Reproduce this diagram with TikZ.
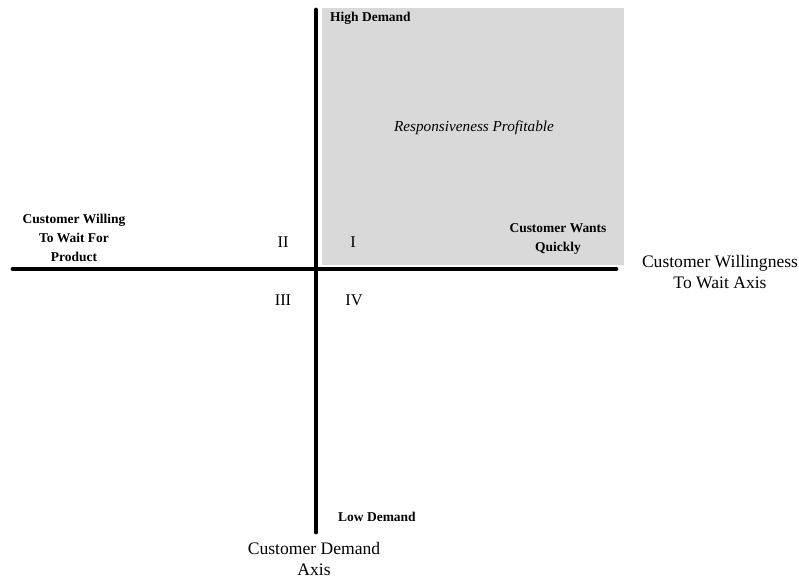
\documentclass[tikz,border=0pt]{standalone}
\usepackage{fontspec}
\setmainfont{Liberation Serif}
\usetikzlibrary{positioning, backgrounds}
\definecolor{profitgray}{RGB}{217,217,217}

\begin{document}
\begin{tikzpicture}[
    x=0.03cm, y=-0.03cm,
    axis/.style     ={line width=4.2pt, line cap=round},
    tag/.style      ={font=\bfseries\fontsize{11.5}{16}\selectfont, align=center,
                      inner sep=0pt},
    quad/.style     ={font=\fontsize{14}{16}\selectfont, inner sep=0pt},
    axislabel/.style={font=\fontsize{15}{17.5}\selectfont, align=center,
                      inner sep=0pt},
  ]
  \useasboundingbox (0,0) rectangle (799,579);

  % ---- shaded quadrant I ----
  \begin{scope}[on background layer]
    \fill[profitgray] (322,8) rectangle (624,265);
  \end{scope}

  % ---- axis ends ----
  \coordinate (top)    at (316,10);
  \coordinate (bottom) at (316,532);
  \coordinate (left)   at (13,269);
  \coordinate (right)  at (616,269);

  \draw[axis] (top) -- (bottom);
  \draw[axis] (left) -- (right);

  % ---- axis labels ----
  \node[axislabel] (waitaxis)   at (720,272) {Customer Willingness\\To Wait Axis};
  \node[axislabel] (demandaxis) at (314,559) {Customer Demand\\Axis};

  % ---- end labels ----
  \node[tag, anchor=west] (high) at (330,18)  {High Demand};
  \node[tag, anchor=west] (low)  at (338,517) {Low Demand};
  \node[tag] (willing) at (74,238) {Customer Willing\\To Wait For\\Product};
  \node[tag] (quick)   at (558,239) {Customer Wants\\Quickly};

  \node[font=\itshape\fontsize{13}{15}\selectfont] (resp) at (474,128)
    {Responsiveness Profitable};

  % ---- quadrant numerals ----
  \node[quad] (q1) at (353,242) {I};
  \node[quad] (q2) at (283,242) {II};
  \node[quad] (q3) at (283,300) {III};
  \node[quad] (q4) at (354,300) {IV};

\end{tikzpicture}
\end{document}
